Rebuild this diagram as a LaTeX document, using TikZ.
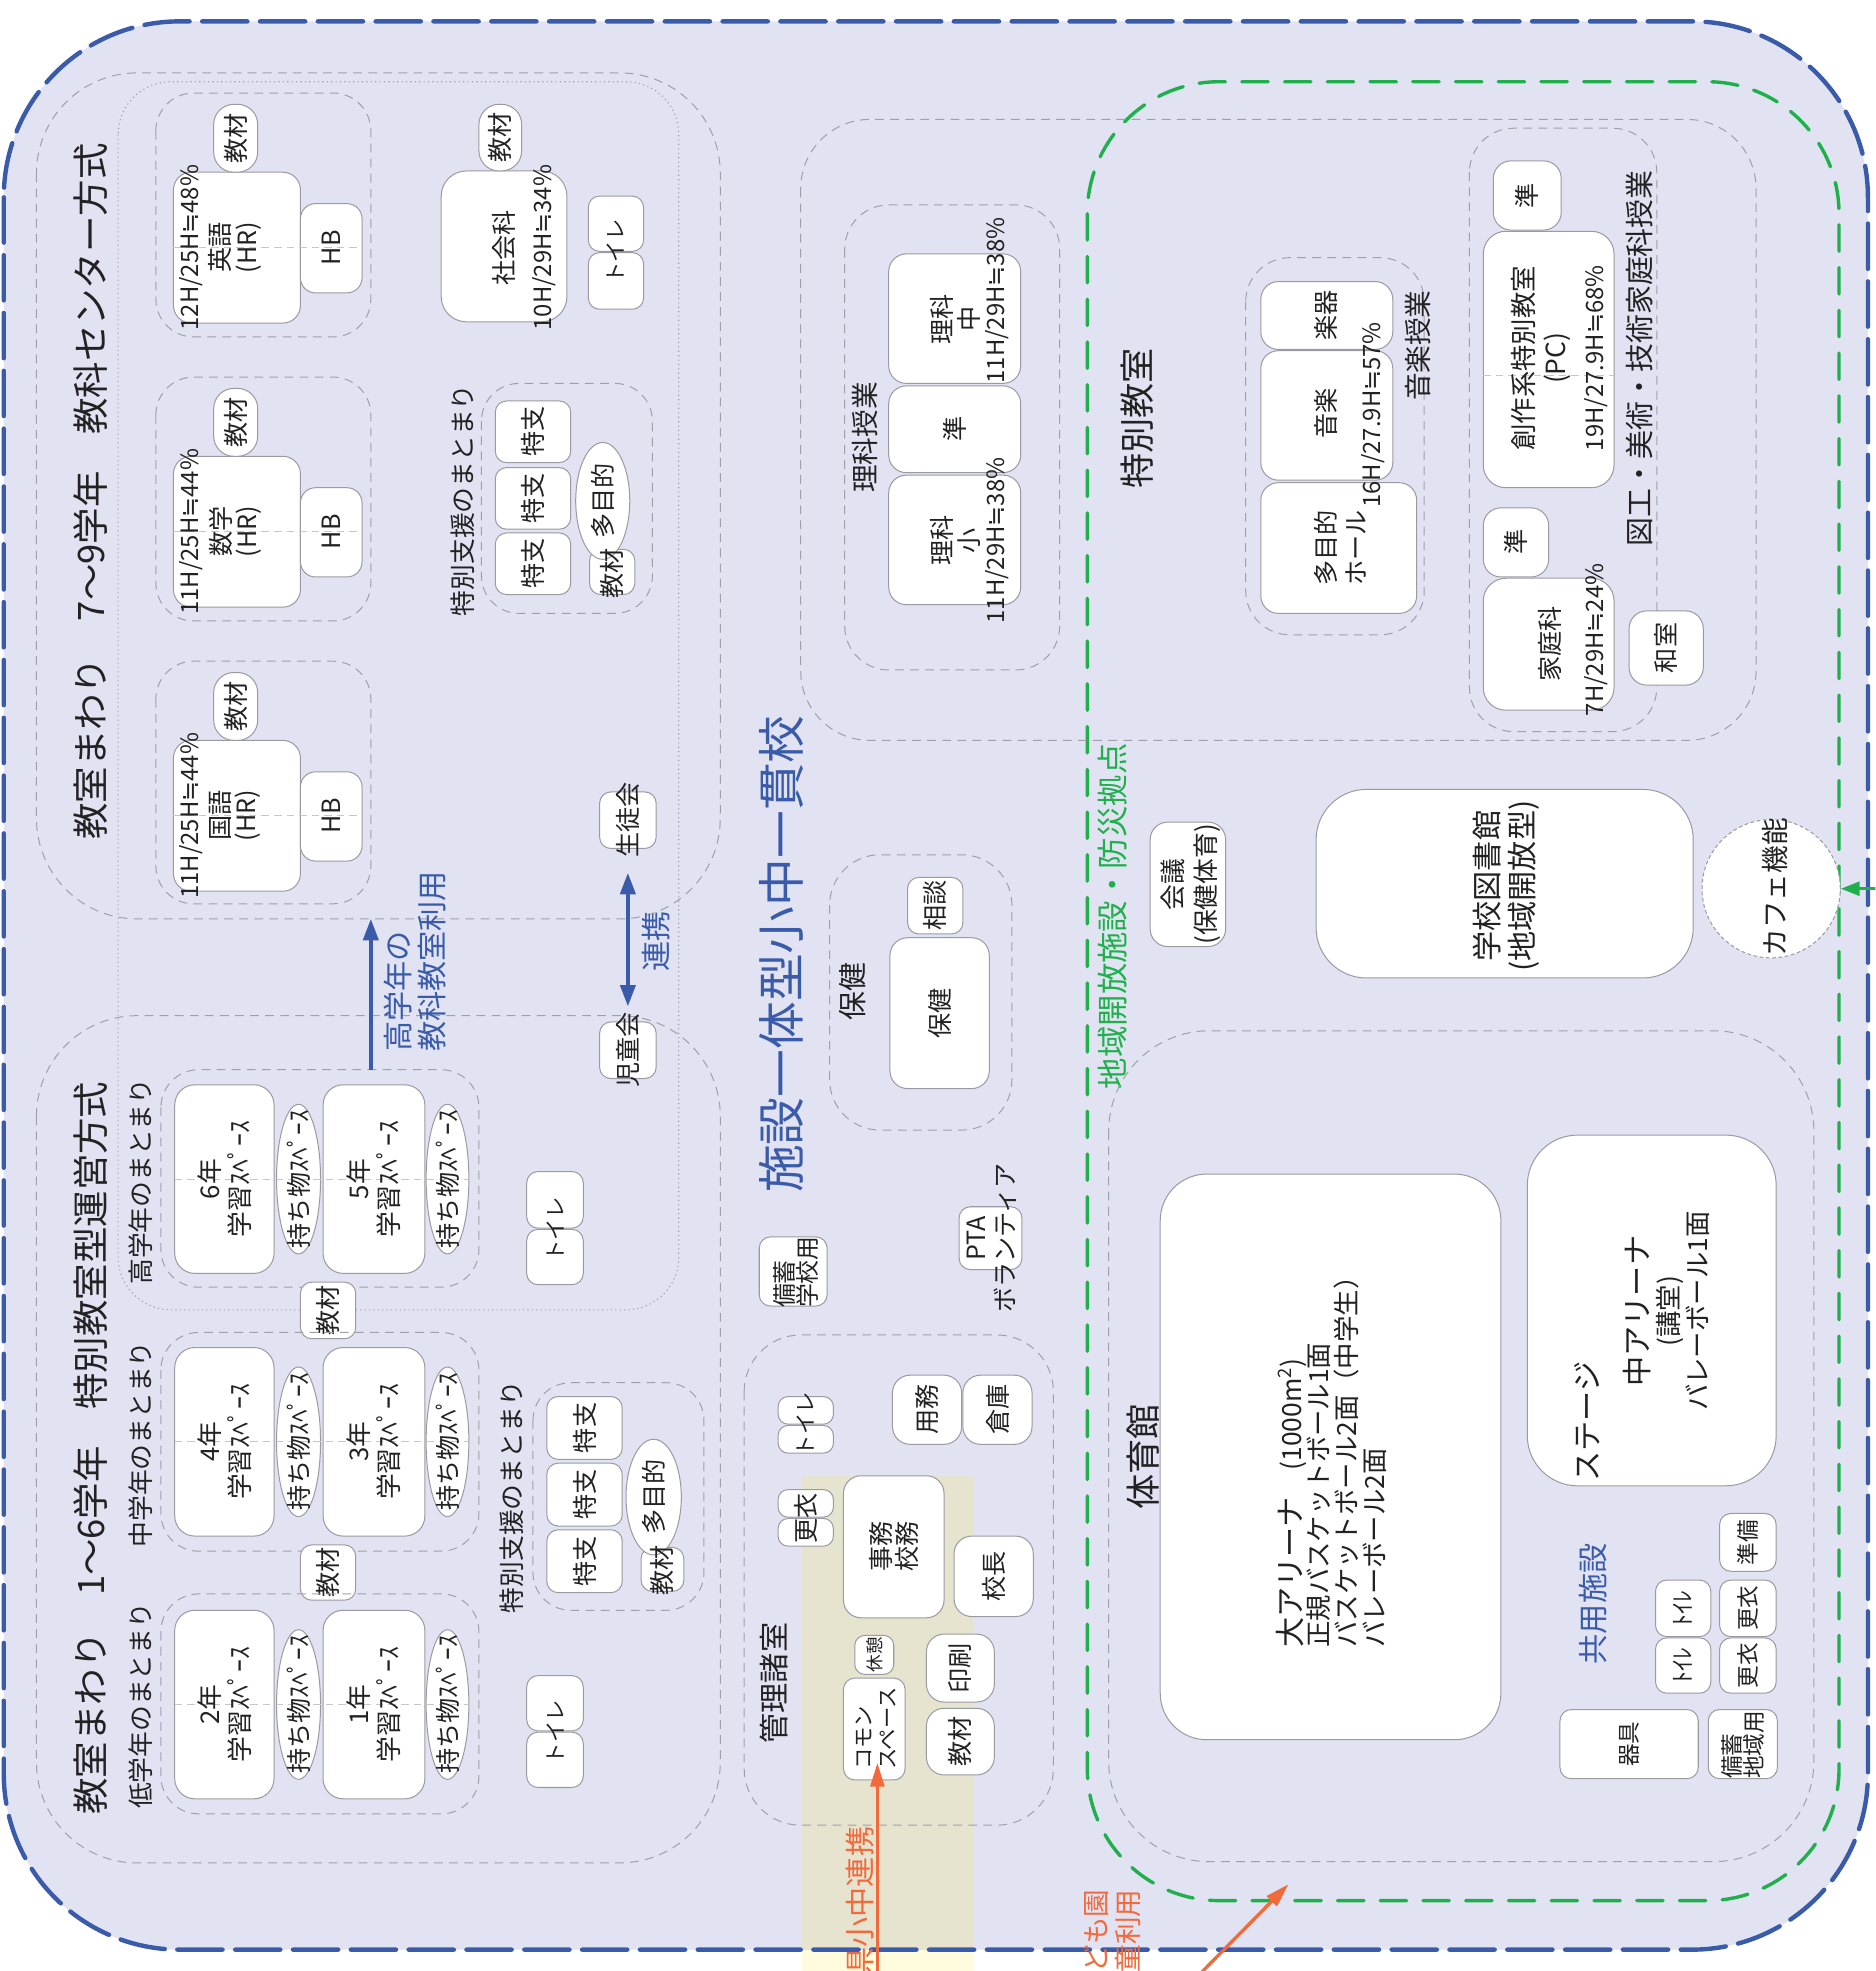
\documentclass[tikz,border=0pt]{standalone}
\usepackage{fontspec}
\setmainfont{Noto Sans CJK JP}
\newfontfamily\symfont{DejaVu Sans}
\newcommand{\nearly}{{\symfont ≒}}
\usetikzlibrary{arrows.meta}
\definecolor{zonefill}{HTML}{E1E3F3}
\definecolor{schoolblue}{HTML}{3A5BA9}
\definecolor{opengreen}{HTML}{1FB04C}
\definecolor{linkorange}{HTML}{F26A3B}
\definecolor{stripebeige}{HTML}{E6E3CF}
\definecolor{stripeyellow}{HTML}{FFFBDC}
\definecolor{roomline}{HTML}{9A9AA2}
\definecolor{zoneline}{HTML}{A0A0A8}
\definecolor{inktext}{HTML}{222222}

\begin{document}
\begin{tikzpicture}[x=1pt,y=-1pt,>={Triangle[width=12pt,length=17pt]},
  zone/.style={draw=zoneline,line width=0.8pt,dash pattern=on 7pt off 5pt},
  dotzone/.style={draw=zoneline,line width=0.9pt,dash pattern=on 0.9pt off 2.6pt},
  room/.style={draw=roomline,fill=white,line width=0.8pt,rounded corners=14pt},
  pill/.style={draw=roomline,fill=white,line width=0.8pt,rounded corners=9pt},
  midline/.style={draw=zoneline!60,line width=0.6pt,dash pattern=on 6pt off 4pt},
  vtext/.style={rotate=90,inner sep=0pt,text=inktext,align=center},
  titletext/.style={vtext,font=\fontsize{29}{32}\selectfont},
  headtext/.style={vtext,font=\fontsize{28}{30}\selectfont},
  grouptext/.style={vtext,font=\fontsize{20.5}{22}\selectfont},
  roomtext/.style={vtext,font=\fontsize{20}{21}\selectfont},
  hourtext/.style={vtext,font=\fontsize{19}{20}\selectfont},
  smalltext/.style={vtext,font=\fontsize{17}{19}\selectfont},
  bluetext/.style={vtext,text=schoolblue,font=\fontsize{24}{27}\selectfont},
  linkarrow/.style={draw=schoolblue,line width=3pt},
  orangearrow/.style={draw=linkorange,line width=2.6pt,-{Triangle[width=11pt,length=19pt]}}]
  \useasboundingbox (0,0) rectangle (1492,1568);
  \clip (0,0) rectangle (1492,1568);
  \fill[white] (0,0) rectangle (1492,1568);

  % site and open-use outlines
  \fill[zonefill,rounded corners=140pt] (3,17) rectangle (1486,1551);
  \fill[stripebeige] (638,1174) rectangle (774,1551);
  \fill[stripeyellow] (638,1551) rectangle (774,1568);
  \draw[schoolblue,line width=3.5pt,line cap=round,dash pattern=on 36pt off 10pt,rounded corners=140pt] (3,17) rectangle (1486,1551);
  \draw[opengreen,line width=2.7pt,line cap=round,dash pattern=on 21pt off 13pt,rounded corners=105pt] (865,65) rectangle (1463,1512);

  % 7-9 grades
  \draw[zone,rounded corners=80pt] (29,58) rectangle (573,731);
  \draw[dotzone,rounded corners=42pt] (94,65) rectangle (540,1042);
  \node[titletext] (uppertitle) at (72,391) {教室まわり　7〜9学年　教科センター方式};

  \draw[zone,rounded corners=30pt] (124,74) rectangle (295,268);
  \draw[room] (138,137) rectangle (239,257);
  \draw[room,rounded corners=12pt] (239,162) rectangle (288,233);
  \draw[pill,rounded corners=16pt] (170,83) rectangle (205,137);
  \draw[midline] (138,197) -- (288,197);
  \node[hourtext] (enghours) at (152,197) {12H/25H\nearly48\%};
  \node[roomtext] (engname) at (187,197) {英語\\(HR)};
  \node[roomtext] (enghb) at (263.5,197) {HB};
  \node[roomtext] (engmat) at (187.5,110) {教材};

  \draw[zone,rounded corners=30pt] (124,300) rectangle (295,494);
  \draw[room] (138,363) rectangle (239,483);
  \draw[room,rounded corners=12pt] (239,388) rectangle (288,459);
  \draw[pill,rounded corners=16pt] (170,309) rectangle (205,363);
  \draw[midline] (138,423) -- (288,423);
  \node[hourtext] (mathhours) at (152,423) {11H/25H\nearly44\%};
  \node[roomtext] (mathname) at (187,423) {数学\\(HR)};
  \node[roomtext] (mathhb) at (263.5,423) {HB};
  \node[roomtext] (mathmat) at (187.5,336) {教材};

  \draw[zone,rounded corners=30pt] (124,526) rectangle (295,719);
  \draw[room] (138,589) rectangle (239,709);
  \draw[room,rounded corners=12pt] (239,614) rectangle (288,685);
  \draw[pill,rounded corners=16pt] (170,535) rectangle (205,589);
  \draw[midline] (138,649) -- (288,649);
  \node[hourtext] (jphours) at (152,649) {11H/25H\nearly44\%};
  \node[roomtext] (jpname) at (187,649) {国語\\(HR)};
  \node[roomtext] (jphb) at (263.5,649) {HB};
  \node[roomtext] (jpmat) at (187.5,562) {教材};

  \draw[room,rounded corners=20pt] (351,136) rectangle (451,256);
  \draw[pill,rounded corners=16pt] (381,83) rectangle (415,136);
  \node[roomtext] (socname) at (401,197) {社会科};
  \node[hourtext] (sochours) at (433,197) {10H/29H\nearly34\%};
  \node[roomtext] (socmat) at (398,109.5) {教材};
  \draw[pill] (468,156) rectangle (512,200);
  \draw[pill] (468,201) rectangle (512,246);
  \node[smalltext] (toiletup) at (490,200) {トイレ};

  \draw[zone,rounded corners=30pt] (383,305) rectangle (519,488);
  \node[grouptext] (supportup) at (368,398) {特別支援のまとまり};
  \draw[pill] (394,319) rectangle (454,368);
  \draw[pill] (394,372) rectangle (454,421);
  \draw[pill] (394,424) rectangle (454,473);
  \draw[pill] (469,437) rectangle (505,473);
  \draw[room] (479.5,398.5) ellipse [x radius=21.5, y radius=46.5];
  \node[roomtext] (tokushia) at (424,343.5) {特支};
  \node[roomtext] (tokushib) at (424,396.5) {特支};
  \node[roomtext] (tokushic) at (424,448.5) {特支};
  \node[roomtext] (multiup) at (479.5,398.5) {多目的};
  \node[roomtext] (supmatup) at (487,456) {教材};

  % 1-6 grades
  \draw[zone,rounded corners=80pt] (29,808) rectangle (573,1482);
  \node[titletext] (lowertitle) at (72,1152) {教室まわり　1〜6学年　特別教室型運営方式};

  \draw[zone,rounded corners=30pt] (128,851) rectangle (381,1024);
  \node[grouptext] (uppergrades) at (112,940) {高学年のまとまり};
  \draw[room,rounded corners=16pt] (139,863) rectangle (218,1013);
  \draw[room,rounded corners=16pt] (257,863) rectangle (338,1013);
  \draw[room] (237.5,938) ellipse [x radius=17.5, y radius=59.5];
  \draw[room] (356,938) ellipse [x radius=17, y radius=59.5];
  \draw[midline] (139,938) -- (373,938);
  \node[roomtext,font=\fontsize{20.5}{24}\selectfont] (grade6) at (178.5,938) {6年\\学習ｽﾍﾟｰｽ};
  \node[roomtext,font=\fontsize{20.5}{24}\selectfont] (grade5) at (297.5,938) {5年\\学習ｽﾍﾟｰｽ};
  \node[roomtext] (locker6) at (237.5,938) {持ち物ｽﾍﾟｰｽ};
  \node[roomtext] (locker5) at (356,938) {持ち物ｽﾍﾟｰｽ};

  \draw[pill] (239,1020) rectangle (283,1065);
  \node[roomtext] (gradmata) at (261,1042.5) {教材};

  \draw[zone,rounded corners=30pt] (128,1060) rectangle (381,1234);
  \node[grouptext] (midgrades) at (112,1149) {中学年のまとまり};
  \draw[room,rounded corners=16pt] (139,1072) rectangle (218,1222);
  \draw[room,rounded corners=16pt] (257,1072) rectangle (338,1222);
  \draw[room] (237.5,1147) ellipse [x radius=17.5, y radius=59.5];
  \draw[room] (356,1147) ellipse [x radius=17, y radius=59.5];
  \draw[midline] (139,1147) -- (373,1147);
  \node[roomtext,font=\fontsize{20.5}{24}\selectfont] (grade4) at (178.5,1147) {4年\\学習ｽﾍﾟｰｽ};
  \node[roomtext,font=\fontsize{20.5}{24}\selectfont] (grade3) at (297.5,1147) {3年\\学習ｽﾍﾟｰｽ};
  \node[roomtext] (locker4) at (237.5,1147) {持ち物ｽﾍﾟｰｽ};
  \node[roomtext] (locker3) at (356,1147) {持ち物ｽﾍﾟｰｽ};

  \draw[pill] (239,1229) rectangle (283,1273);
  \node[roomtext] (gradmatb) at (261,1251) {教材};

  \draw[zone,rounded corners=30pt] (128,1268) rectangle (381,1443);
  \node[grouptext] (lowgrades) at (112,1357) {低学年のまとまり};
  \draw[room,rounded corners=16pt] (139,1281) rectangle (218,1431);
  \draw[room,rounded corners=16pt] (257,1281) rectangle (338,1431);
  \draw[room] (237.5,1356) ellipse [x radius=17.5, y radius=59.5];
  \draw[room] (356,1356) ellipse [x radius=17, y radius=59.5];
  \draw[midline] (139,1356) -- (373,1356);
  \node[roomtext,font=\fontsize{20.5}{24}\selectfont] (grade2) at (178.5,1356) {2年\\学習ｽﾍﾟｰｽ};
  \node[roomtext,font=\fontsize{20.5}{24}\selectfont] (grade1) at (297.5,1356) {1年\\学習ｽﾍﾟｰｽ};
  \node[roomtext] (locker2) at (237.5,1356) {持ち物ｽﾍﾟｰｽ};
  \node[roomtext] (locker1) at (356,1356) {持ち物ｽﾍﾟｰｽ};

  \draw[pill] (419,932) rectangle (464,977);
  \draw[pill] (419,978) rectangle (464,1022);
  \node[smalltext] (toiletmid) at (441.5,978) {トイレ};
  \draw[pill] (419,1333) rectangle (464,1377);
  \draw[pill] (419,1378) rectangle (464,1422);
  \node[smalltext] (toiletlow) at (441.5,1378) {トイレ};

  \draw[zone,rounded corners=30pt] (424,1100) rectangle (560,1281);
  \node[grouptext] (supportlow) at (407,1191) {特別支援のまとまり};
  \draw[pill] (435,1111) rectangle (495,1161);
  \draw[pill] (435,1164) rectangle (495,1214);
  \draw[pill] (435,1217) rectangle (495,1267);
  \draw[pill] (510,1231) rectangle (544,1266);
  \draw[room] (520,1191) ellipse [x radius=22, y radius=46];
  \node[roomtext] (tokushid) at (465,1136) {特支};
  \node[roomtext] (tokushie) at (465,1189) {特支};
  \node[roomtext] (tokushif) at (465,1242) {特支};
  \node[roomtext] (multilow) at (520,1191) {多目的};
  \node[roomtext] (supmatlow) at (527,1249) {教材};

  % councils and links
  \node[pill,minimum width=45pt,minimum height=45pt] (seitobox) at (499.5,652.5) {};
  \node[roomtext] (seitotext) at (499.5,652.5) {生徒会};
  \node[pill,minimum width=45pt,minimum height=45pt] (jidoubox) at (499.5,835.5) {};
  \node[roomtext] (jidoutext) at (499.5,835.5) {児童会};
  \draw[linkarrow,<->,shorten <=19pt,shorten >=12pt] (seitobox.south) -- (jidoubox.north);
  \node[bluetext] (renkei) at (522,749) {連携};

  \coordinate (upperuse) at (295,851);
  \coordinate (upperzone) at (295,731);
  \draw[linkarrow,->] (upperuse) -- (upperzone);
  \node[bluetext,anchor=west,align=left] (upperuselabel) at (330,837) {高学年の\\教科教室利用};

  \node[vtext,text=schoolblue,font=\fontsize{38}{40}\selectfont] (schooltitle) at (622,759) {施設一体型小中一貫校};

  % special classrooms
  \draw[zone,rounded corners=55pt] (637,95) rectangle (1397,589);
  \node[headtext] (specialhead) at (905,333) {特別教室};

  \draw[zone,rounded corners=35pt] (672,163) rectangle (843,533);
  \node[vtext,font=\fontsize{22}{24}\selectfont] (sciencelabel) at (688,348) {理科授業};
  \draw[room] (707,202) rectangle (812,305);
  \draw[room] (707,307) rectangle (812,376);
  \draw[room] (707,378) rectangle (812,481);
  \node[roomtext] (scijr) at (760,254) {理科\\中};
  \node[hourtext] (scijrhours) at (793,239) {11H/29H\nearly38\%};
  \node[roomtext] (sciprep) at (760,341.5) {準};
  \node[roomtext] (scielem) at (760,430) {理科\\小};
  \node[hourtext] (scielemhours) at (793,430) {11H/29H\nearly38\%};

  \draw[zone,rounded corners=35pt] (991,205) rectangle (1133,505);
  \draw[room] (1003,224) rectangle (1108,278);
  \draw[room] (1003,279) rectangle (1108,382);
  \draw[room] (1003,384) rectangle (1127,488);
  \node[vtext,font=\fontsize{22}{24}\selectfont] (musiclabel) at (1128,275) {音楽授業};
  \node[roomtext] (instrument) at (1055,251) {楽器};
  \node[roomtext] (music) at (1055,329) {音楽};
  \node[hourtext] (musichours) at (1092,330) {16H/27.9H\nearly57\%};
  \node[roomtext,font=\fontsize{20}{24}\selectfont] (hall) at (1066,436) {多目的\\ホール};

  \draw[zone,rounded corners=35pt] (1169,102) rectangle (1318,582);
  \draw[room] (1188,128) rectangle (1242,183);
  \draw[room,rounded corners=18pt] (1180,184) rectangle (1284,388);
  \draw[room] (1180,404) rectangle (1232,459);
  \draw[room,rounded corners=18pt] (1180,460) rectangle (1284,565);
  \draw[room] (1296,486) rectangle (1355,545);
  \draw[midline] (1180,299) -- (1284,299);
  \node[vtext,font=\fontsize{23}{25}\selectfont] (artlabel) at (1304,285) {図工・美術・技術家庭科授業};
  \node[roomtext] (artprep) at (1215,155.5) {準};
  \node[roomtext,font=\fontsize{21}{26}\selectfont] (artroom) at (1226,285) {創作系特別教室\\(PC)};
  \node[hourtext] (arthours) at (1270,285) {19H/27.9H\nearly68\%};
  \node[roomtext] (homeprep) at (1206,431.5) {準};
  \node[roomtext] (homeroom) at (1233,512) {家庭科};
  \node[hourtext] (homehours) at (1270,509) {7H/29H\nearly24\%};
  \node[roomtext] (tatami) at (1325.5,515.5) {和室};

  % health
  \draw[zone,rounded corners=40pt] (660,680) rectangle (805,899);
  \node[vtext,font=\fontsize{23}{25}\selectfont] (healthlabel) at (678,789) {保健};
  \draw[room] (708,746) rectangle (787,866);
  \draw[pill] (722,698) rectangle (766,743);
  \node[roomtext] (healthroom) at (747.5,806) {保健};
  \node[roomtext] (consult) at (744,720.5) {相談};

  \node[vtext,text=opengreen,font=\fontsize{25}{27}\selectfont] (openlabel) at (885,729) {地域開放施設・防災拠点};
  \draw[room] (915,654) rectangle (975,753);
  \node[roomtext,font=\fontsize{20.5}{26}\selectfont] (meeting) at (947,703.5) {会議\\(保健体育)};

  \draw[room,rounded corners=40pt] (1047,628) rectangle (1347,778);
  \node[vtext,font=\fontsize{24}{28}\selectfont] (library) at (1198,705) {学校図書館\\(地域開放型)};
  \node[draw=roomline,line width=0.8pt,dash pattern=on 3pt off 2pt,fill=white,circle,minimum size=110pt,inner sep=0pt] (cafebox) at (1409,707) {};
  \node[vtext,font=\fontsize{22}{24}\selectfont] (cafe) at (1412,706) {カフェ機能};
  \coordinate (cafefeed) at (1500,707);
  \draw[opengreen,line width=2.5pt,-{Triangle[width=11pt,length=15pt]}] (cafefeed) -- (cafebox.east);

  \draw[pill] (763,960) rectangle (813,1010);
  \node[roomtext,font=\fontsize{20}{23}\selectfont] (pta) at (789,985) {PTA\\ボランティア};
  \draw[pill] (604,984) rectangle (658,1039);
  \node[roomtext,align=left,font=\fontsize{19}{17}\selectfont] (stockschool) at (633,1012) {備蓄\\学校用};

  % administration
  \draw[zone,rounded corners=45pt] (592,1062) rectangle (838,1452);
  \node[vtext,font=\fontsize{24}{26}\selectfont] (adminlabel) at (616,1339) {管理諸室};
  \draw[pill,rounded corners=8pt] (619,1111) rectangle (663,1133);
  \draw[pill,rounded corners=8pt] (619,1134) rectangle (663,1156);
  \node[smalltext] (toiletadmin) at (641,1133) {トイレ};
  \draw[pill,rounded corners=8pt] (619,1185) rectangle (663,1207);
  \draw[pill,rounded corners=8pt] (619,1208) rectangle (663,1230);
  \node[roomtext] (changeadmin) at (641,1208) {更衣};
  \draw[room] (671,1174) rectangle (751,1287);
  \node[roomtext] (office) at (711,1230) {事務\\校務};
  \draw[room] (710,1094) rectangle (765,1149);
  \draw[room] (766,1094) rectangle (821,1149);
  \node[roomtext] (custodian) at (737.5,1121.5) {用務};
  \node[roomtext] (storage) at (793.5,1121.5) {倉庫};
  \draw[room] (759,1222) rectangle (822,1286);
  \node[roomtext] (principal) at (790.5,1254) {校長};
  \draw[pill,rounded corners=8pt] (680,1301) rectangle (711,1332);
  \node[vtext,font=\fontsize{14}{15}\selectfont] (rest) at (695.5,1316.5) {休憩};
  \node[pill,minimum width=49pt,minimum height=81pt] (commonbox) at (695.5,1375.5) {};
  \node[smalltext,align=left] (common) at (697,1375) {コモン\\スペース};
  \draw[room] (737,1300) rectangle (791,1354);
  \draw[room] (737,1359) rectangle (791,1412);
  \node[roomtext] (printing) at (764,1327) {印刷};
  \node[roomtext] (adminmat) at (764,1385.5) {教材};

  \coordinate (kenfoot) at (698,1600);
  \draw[orangearrow,shorten >=-14pt] (kenfoot) -- (kenfoot |- commonbox.south);
  \node[vtext,anchor=east,text=linkorange,font=\fontsize{24}{26}\selectfont] (kenlabel) at (684,1453) {県小中連携};

  % gymnasium
  \draw[zone,rounded corners=80pt] (882,820) rectangle (1443,1481);
  \node[headtext] (gymhead) at (909,1159) {体育館};
  \draw[room,rounded corners=37pt] (923,934) rectangle (1194,1384);
  \node[vtext,anchor=west,align=left,font=\fontsize{21}{22}\selectfont] (bigarena) at (1059,1311) {{\fontsize{24}{22}\selectfont 大アリーナ}　(1000m\textsuperscript{2})\\正規バスケットボール1面\\バスケットボール2面（中学生）\\バレーボール2面};
  \draw[room,rounded corners=40pt] (1215,903) rectangle (1413,1182);
  \node[vtext,font=\fontsize{24}{26}\selectfont] (stage) at (1263,1131) {ステージ};
  \node[vtext,font=\fontsize{21}{23.5}\selectfont] (midarena) at (1326,1043) {{\fontsize{24}{23.5}\selectfont 中アリーナ}\\(講堂)\\バレーボール1面};
  \node[bluetext] (sharedlabel) at (1267,1276) {共用施設};
  \draw[pill] (1368,1204) rectangle (1413,1250);
  \draw[pill] (1368,1257) rectangle (1413,1302);
  \draw[pill] (1368,1303) rectangle (1413,1347);
  \draw[pill] (1317,1257) rectangle (1361,1302);
  \draw[pill] (1317,1303) rectangle (1361,1347);
  \draw[pill] (1241,1360) rectangle (1351,1415);
  \draw[pill] (1359,1360) rectangle (1414,1415);
  \node[vtext,font=\fontsize{18}{19}\selectfont] (gymprep) at (1390.5,1227) {準備};
  \node[vtext,font=\fontsize{18}{19}\selectfont] (gymchangea) at (1390.5,1279.5) {更衣};
  \node[vtext,font=\fontsize{18}{19}\selectfont] (gymchangeb) at (1390.5,1325) {更衣};
  \node[vtext,font=\fontsize{19}{19}\selectfont] (gymtoileta) at (1339,1279.5) {ﾄｲﾚ};
  \node[vtext,font=\fontsize{19}{19}\selectfont] (gymtoiletb) at (1339,1325) {ﾄｲﾚ};
  \node[vtext,font=\fontsize{18}{19}\selectfont] (equipment) at (1296,1387.5) {器具};
  \node[vtext,align=left,font=\fontsize{18}{18}\selectfont] (stockarea) at (1386.5,1388) {備蓄\\地域用};

  % kindergarten link
  \coordinate (ensource) at (948,1577);
  \coordinate (entarget) at (1025,1499);
  \draw[orangearrow] (ensource) -- (entarget);
  \node[vtext,anchor=east,text=linkorange,font=\fontsize{22}{26}\selectfont] (kodomo) at (885,1503) {こども園\\児童利用};
\end{tikzpicture}
\end{document}
